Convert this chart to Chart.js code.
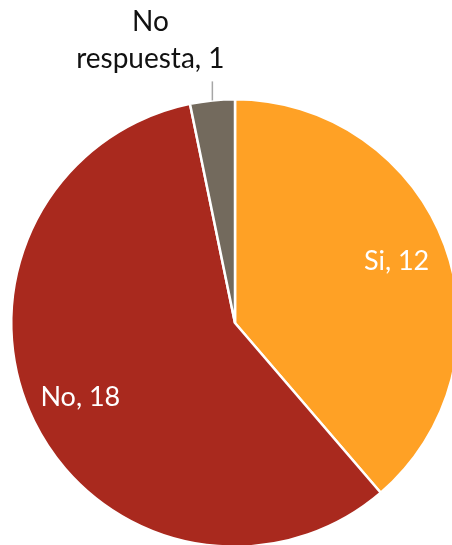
<!DOCTYPE html>
<html>
<head>
<meta charset="utf-8">
<script src="https://cdn.jsdelivr.net/npm/chart.js@4.4.1/dist/chart.umd.min.js"></script>
<style>
  html, body { margin: 0; padding: 0; background: #fff; overflow: hidden; }
  #wrap { position: absolute; left: 0; top: 0; width: 470px; height: 560px; }
</style>
</head>
<body>
<div id="wrap"><canvas id="pieChart" width="470" height="560"></canvas></div>
<script>
var categories = ['Si', 'No', 'No respuesta'];
var counts     = [12, 18, 1];
var colors     = ['#FFA125', '#A9291E', '#736A5D'];
var labelColor = ['#ffffff', '#ffffff', '#111111'];

var FONT = 'Lato, "Open Sans", sans-serif';

// labels like excel: name, value inside the slice; small slice goes outside with a leader line
var sliceLabels = {
    id: 'sliceLabels',
    afterDatasetsDraw: function (chart) {
        var ctx = chart.ctx;
        var arcs = chart.getDatasetMeta(0).data;
        ctx.save();
        ctx.textAlign = 'center';
        ctx.textBaseline = 'middle';
        arcs.forEach(function (arc, i) {
            var mid = (arc.startAngle + arc.endAngle) / 2;
            var txt = categories[i] + ', ' + counts[i];
            if (arc.endAngle - arc.startAngle > 0.5) {
                var r = arc.outerRadius * 0.77;
                ctx.font = '27px ' + FONT;
                ctx.fillStyle = labelColor[i];
                ctx.fillText(txt, arc.x + Math.cos(mid) * r, arc.y + Math.sin(mid) * r - 2);
            } else {
                var ex = arc.x + Math.cos(mid) * arc.outerRadius;
                var ey = arc.y + Math.sin(mid) * arc.outerRadius;
                ctx.strokeStyle = '#a6a6a6';
                ctx.lineWidth = 1.5;
                ctx.beginPath();
                ctx.moveTo(ex, ey);
                ctx.lineTo(ex, ey - 19);
                ctx.stroke();
                var words = categories[i].split(' ');
                ctx.font = '28px ' + FONT;
                ctx.fillStyle = labelColor[i];
                ctx.fillText(words[0], ex - 62, ey - 78);
                ctx.fillText(words.slice(1).join(' ') + ', ' + counts[i], ex - 62, ey - 41);
            }
        });
        ctx.restore();
    }
};

new Chart(document.getElementById('pieChart').getContext('2d'), {
    type: 'pie',
    data: {
        labels: categories,
        datasets: [{
            data: counts,
            backgroundColor: colors,
            borderColor: '#ffffff',
            borderWidth: 2.5
        }]
    },
    options: {
        responsive: false,
        animation: false,
        layout: { padding: { left: 10, right: 10, top: 98, bottom: 12 } },
        plugins: {
            legend: { display: false },
            tooltip: { enabled: false }
        }
    },
    plugins: [sliceLabels]
});
</script>
</body>
</html>
